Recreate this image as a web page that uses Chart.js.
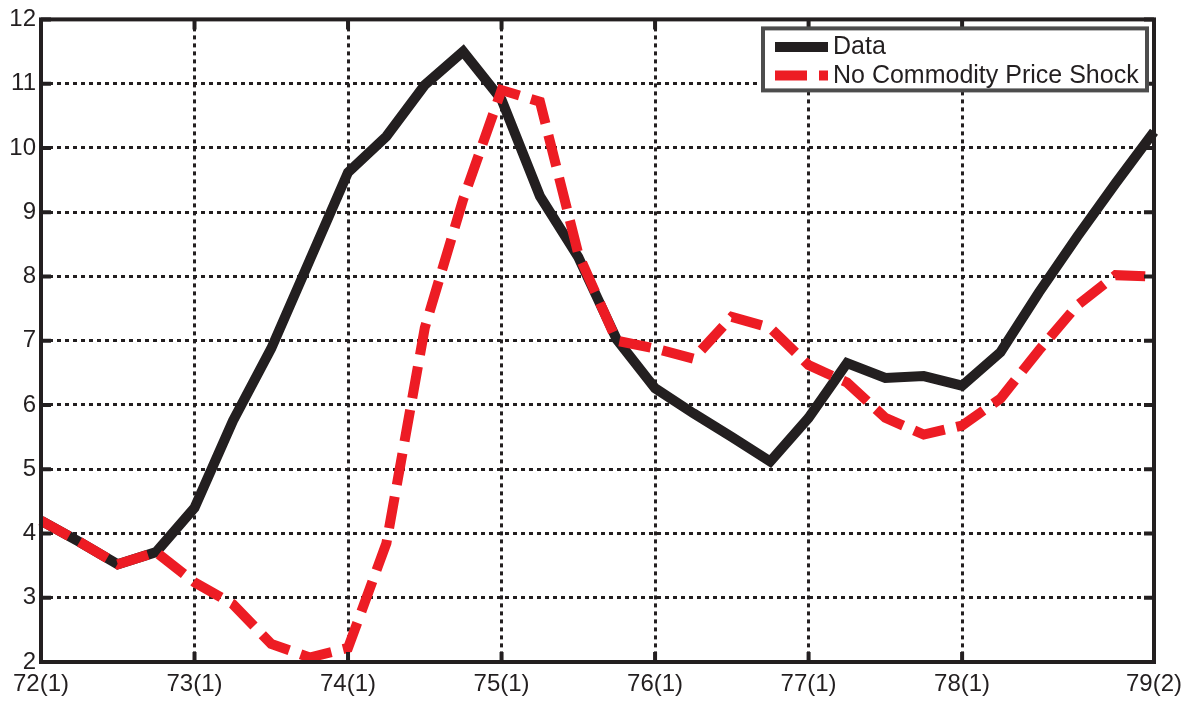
<!DOCTYPE html>
<html>
<head>
<meta charset="utf-8">
<script src="https://cdn.jsdelivr.net/npm/chart.js@4.4.1/dist/chart.umd.min.js"></script>
<style>
  html, body { margin: 0; padding: 0; background: #ffffff; }
  #wrap { width: 1195px; height: 702px; }
</style>
</head>
<body>
<div id="wrap"><canvas id="chart" width="1195" height="702"></canvas></div>
<script>
// Quarterly periods, 1972 Q1 through 1979 Q2
const quarters = [
  '72(1)','72(2)','72(3)','72(4)',
  '73(1)','73(2)','73(3)','73(4)',
  '74(1)','74(2)','74(3)','74(4)',
  '75(1)','75(2)','75(3)','75(4)',
  '76(1)','76(2)','76(3)','76(4)',
  '77(1)','77(2)','77(3)','77(4)',
  '78(1)','78(2)','78(3)','78(4)',
  '79(1)','79(2)'
];

// Periods that carry an axis label
const tickLabels = ['72(1)','73(1)','74(1)','75(1)','76(1)','77(1)','78(1)','79(2)'];

// Observed series
const dataSeries = [
  4.20, 3.87, 3.52, 3.71,
  4.40, 5.75, 6.88, 8.25,
  9.62, 10.18, 10.98, 11.50,
  10.75, 9.25, 8.30, 7.02,
  6.26, 5.87, 5.50, 5.12,
  5.80, 6.65, 6.42, 6.45,
  6.30, 6.82, 7.75, 8.62,
  9.45, 10.25
];

// Counterfactual series
const noShockSeries = [
  4.20, 3.87, 3.52, 3.71,
  3.24, 2.90, 2.28, 2.07,
  2.22, 3.85, 7.20, 9.20,
  10.90, 10.72, 8.35, 7.00,
  6.88, 6.72, 7.37, 7.20,
  6.62, 6.35, 5.80, 5.54,
  5.68, 6.10, 6.85, 7.55,
  8.02, 8.00
];

const seriesNames = ['Data', 'No Commodity Price Shock'];

const INK = '#231f20';
const RED = '#ed1c24';
const FONT = '"Liberation Sans", Arial, Helvetica, sans-serif';
const LINE_W = 10;
const RED_DASH = [32, 12];

// Axes frame with inward tick stubs
const framePlugin = {
  id: 'frame',
  afterDatasetsDraw(chart) {
    const { ctx, chartArea: a, scales } = chart;
    ctx.save();
    ctx.strokeStyle = INK;
    ctx.lineWidth = 4;
    ctx.setLineDash([]);
    ctx.strokeRect(a.left, a.top, a.right - a.left, a.bottom - a.top);
    const stub = 10;
    ctx.lineWidth = 4;
    ctx.beginPath();
    scales.x.ticks.forEach((t, i) => {
      if (!t.label) return;
      const px = scales.x.getPixelForTick(i);
      ctx.moveTo(px, a.bottom); ctx.lineTo(px, a.bottom - stub);
      ctx.moveTo(px, a.top); ctx.lineTo(px, a.top + stub);
    });
    scales.y.ticks.forEach((t, i) => {
      const py = scales.y.getPixelForTick(i);
      ctx.moveTo(a.left, py); ctx.lineTo(a.left + stub, py);
      ctx.moveTo(a.right, py); ctx.lineTo(a.right - stub, py);
    });
    ctx.stroke();
    ctx.restore();
  }
};

// Boxed legend in the upper right of the plot
const legendPlugin = {
  id: 'boxLegend',
  afterDraw(chart) {
    const { ctx, chartArea: a } = chart;
    const right = a.right - 7, top = a.top + 9;
    const w = 384, h = 62;
    const left = right - w;
    ctx.save();
    ctx.fillStyle = '#ffffff';
    ctx.fillRect(left, top, w, h);
    ctx.strokeStyle = '#4d4d4d';
    ctx.lineWidth = 4;
    ctx.strokeRect(left, top, w, h);

    const sx0 = left + 12, sx1 = left + 65;
    const rows = [top + 18.5, top + 47];
    const styles = [
      { color: INK, dash: [] },
      { color: RED, dash: RED_DASH }
    ];
    rows.forEach((y, i) => {
      ctx.strokeStyle = styles[i].color;
      ctx.lineWidth = 10;
      ctx.lineCap = 'butt';
      ctx.setLineDash(styles[i].dash);
      ctx.beginPath();
      ctx.moveTo(sx0, y);
      ctx.lineTo(sx1, y);
      ctx.stroke();
      ctx.setLineDash([]);
      ctx.fillStyle = INK;
      ctx.font = '25px ' + FONT;
      ctx.textAlign = 'left';
      ctx.textBaseline = 'middle';
      ctx.fillText(seriesNames[i], left + 70, y + 0.5);
    });
    ctx.restore();
  }
};

const lastIdx = quarters.length - 1;

new Chart(document.getElementById('chart'), {
  type: 'line',
  data: {
    labels: quarters,
    datasets: [
      {
        label: seriesNames[0],
        data: dataSeries,
        borderColor: INK,
        borderWidth: LINE_W,
        borderJoinStyle: 'miter',
        pointRadius: 0,
        tension: 0,
        fill: false,
        order: 2
      },
      {
        label: seriesNames[1],
        data: noShockSeries,
        borderColor: RED,
        borderWidth: LINE_W,
        borderDash: RED_DASH,
        borderCapStyle: 'butt',
        borderJoinStyle: 'miter',
        pointRadius: 0,
        tension: 0,
        fill: false,
        order: 1
      }
    ]
  },
  options: {
    responsive: false,
    animation: false,
    devicePixelRatio: 1,
    layout: { padding: { top: 16, right: 41, left: 0, bottom: 0 } },
    plugins: {
      legend: { display: false },
      tooltip: { enabled: false }
    },
    scales: {
      x: {
        type: 'category',
        offset: false,
        afterFit(s) { s.height = 40; },
        grid: {
          offset: false,
          drawTicks: false,
          lineWidth: 3,
          color(ctx) {
            if (!ctx.tick) return 'transparent';
            const i = ctx.index;
            if (i === 0 || i === lastIdx) return 'transparent';
            return tickLabels.includes(quarters[i]) ? INK : 'transparent';
          }
        },
        border: { display: false, dash: [4, 4] },
        ticks: {
          autoSkip: false,
          maxRotation: 0,
          minRotation: 0,
          padding: 8,
          color: INK,
          font: { family: FONT, size: 24 },
          callback(v, i) {
            return tickLabels.includes(quarters[i]) ? quarters[i] : '';
          }
        }
      },
      y: {
        min: 2,
        max: 12,
        afterFit(s) { s.width = 41; },
        grid: {
          drawTicks: false,
          lineWidth: 3,
          color(ctx) {
            if (!ctx.tick) return 'transparent';
            const v = ctx.tick.value;
            return (v === 2 || v === 12) ? 'transparent' : INK;
          }
        },
        border: { display: false, dash: [4, 4] },
        ticks: {
          stepSize: 1,
          padding: 5,
          color: INK,
          font: { family: FONT, size: 24 }
        }
      }
    }
  },
  plugins: [framePlugin, legendPlugin]
});
</script>
</body>
</html>
